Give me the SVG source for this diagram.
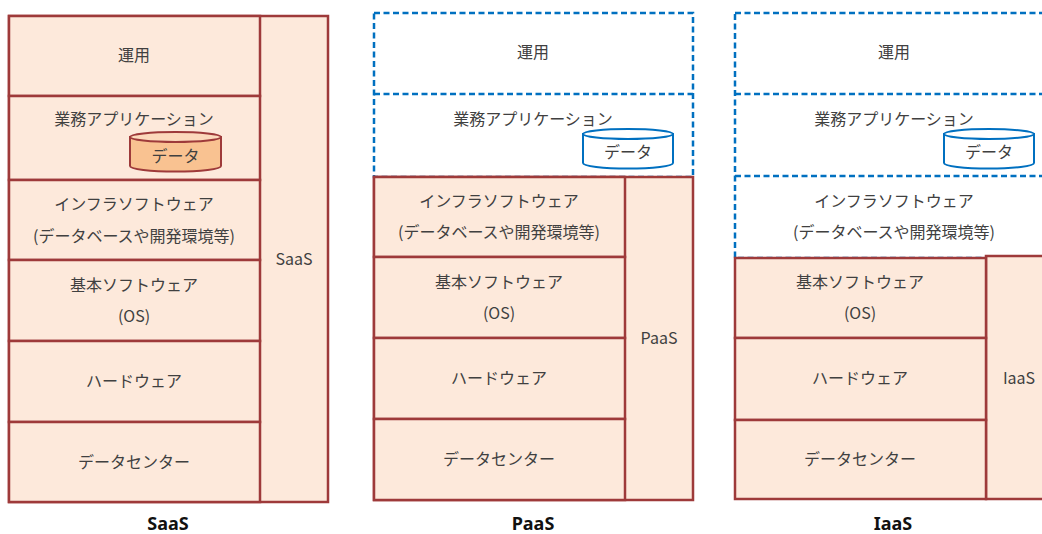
<svg xmlns="http://www.w3.org/2000/svg" width="1042" height="534" viewBox="0 0 1042 534">
<style>
.box{fill:#FDE9DB;stroke:#9E3A3A;stroke-width:2.5}
.dash{fill:none;stroke:#0070C0;stroke-width:2.5;stroke-dasharray:6,3.5}
.t{font-family:"Noto Sans CJK JP","Noto Sans",sans-serif;font-size:16px;fill:#404040;text-anchor:middle;dominant-baseline:central}
.h{font-family:"Noto Sans","Noto Sans CJK JP",sans-serif;font-size:18px;font-weight:bold;fill:#111;text-anchor:middle;dominant-baseline:central}
.cylO{fill:#F9C291;stroke:#9E3A3A;stroke-width:2}
.cylOt{fill:#FCD9BC;stroke:#9E3A3A;stroke-width:2}
.cylB{fill:#fff;stroke:#0070C0;stroke-width:2}
</style>
<g id="saas">
<rect class="box" x="9" y="16" width="319" height="486"/>
<rect class="box" x="9" y="16" width="251" height="80"/>
<rect class="box" x="9" y="96" width="251" height="84"/>
<rect class="box" x="9" y="180" width="251" height="80"/>
<rect class="box" x="9" y="260" width="251" height="81"/>
<rect class="box" x="9" y="341" width="251" height="81"/>
<rect class="box" x="9" y="422" width="251" height="80"/>
<text class="t" x="134" y="54">運用</text>
<text class="t" x="134" y="118">業務アプリケーション</text>
<g id="saas-data">
<path class="cylO" d="M130,137 L130,166 A45.5,5.5 0 0 0 221,166 L221,137 Z"/>
<ellipse class="cylOt" cx="175.5" cy="137" rx="45.5" ry="5"/>
<text class="t" x="175.5" y="155">データ</text>
</g>
<text class="t" x="134" y="203">インフラソフトウェア</text>
<text class="t" x="134" y="235">(データベースや開発環境等)</text>
<text class="t" x="134" y="284">基本ソフトウェア</text>
<text class="t" x="134" y="315">(OS)</text>
<text class="t" x="134" y="380">ハードウェア</text>
<text class="t" x="134" y="461">データセンター</text>
<text class="t" x="294" y="258">SaaS</text>
<text class="h" x="168" y="523">SaaS</text>
</g>
<g id="paas">
<rect class="dash" x="374" y="13" width="319" height="164"/>
<line class="dash" x1="374" y1="94" x2="693" y2="94"/>
<rect class="box" x="374" y="177" width="319" height="323"/>
<rect class="box" x="374" y="177" width="251" height="80"/>
<rect class="box" x="374" y="257" width="251" height="81"/>
<rect class="box" x="374" y="338" width="251" height="81"/>
<rect class="box" x="374" y="419" width="251" height="81"/>
<text class="t" x="533" y="51">運用</text>
<text class="t" x="533" y="118">業務アプリケーション</text>
<g id="paas-data">
<path class="cylB" d="M583,134 L583,163 A45,5.5 0 0 0 673,163 L673,134 Z"/>
<ellipse class="cylB" cx="628" cy="134" rx="45" ry="5"/>
<text class="t" x="628" y="151">データ</text>
</g>
<text class="t" x="499" y="200">インフラソフトウェア</text>
<text class="t" x="499" y="231">(データベースや開発環境等)</text>
<text class="t" x="499" y="281">基本ソフトウェア</text>
<text class="t" x="499" y="312">(OS)</text>
<text class="t" x="499" y="377">ハードウェア</text>
<text class="t" x="499" y="458">データセンター</text>
<text class="t" x="659" y="337">PaaS</text>
<text class="h" x="533" y="523">PaaS</text>
</g>
<g id="iaas">
<rect class="dash" x="735" y="13" width="319" height="245"/>
<line class="dash" x1="735" y1="94" x2="1054" y2="94"/>
<line class="dash" x1="735" y1="176" x2="1054" y2="176"/>
<rect class="box" x="986" y="256" width="70" height="243"/>
<rect class="box" x="735" y="258" width="251" height="80"/>
<rect class="box" x="735" y="338" width="251" height="82"/>
<rect class="box" x="735" y="420" width="251" height="79"/>
<text class="t" x="894" y="51">運用</text>
<text class="t" x="894" y="118">業務アプリケーション</text>
<g id="iaas-data">
<path class="cylB" d="M944,134 L944,163 A45,5.5 0 0 0 1034,163 L1034,134 Z"/>
<ellipse class="cylB" cx="989" cy="134" rx="45" ry="5"/>
<text class="t" x="989" y="151">データ</text>
</g>
<text class="t" x="894" y="200">インフラソフトウェア</text>
<text class="t" x="894" y="231">(データベースや開発環境等)</text>
<text class="t" x="860" y="281">基本ソフトウェア</text>
<text class="t" x="860" y="312">(OS)</text>
<text class="t" x="860" y="377">ハードウェア</text>
<text class="t" x="860" y="458">データセンター</text>
<text class="t" x="1019" y="377">IaaS</text>
<text class="h" x="893" y="523">IaaS</text>
</g>
<g id="connectors"/>
</svg>
